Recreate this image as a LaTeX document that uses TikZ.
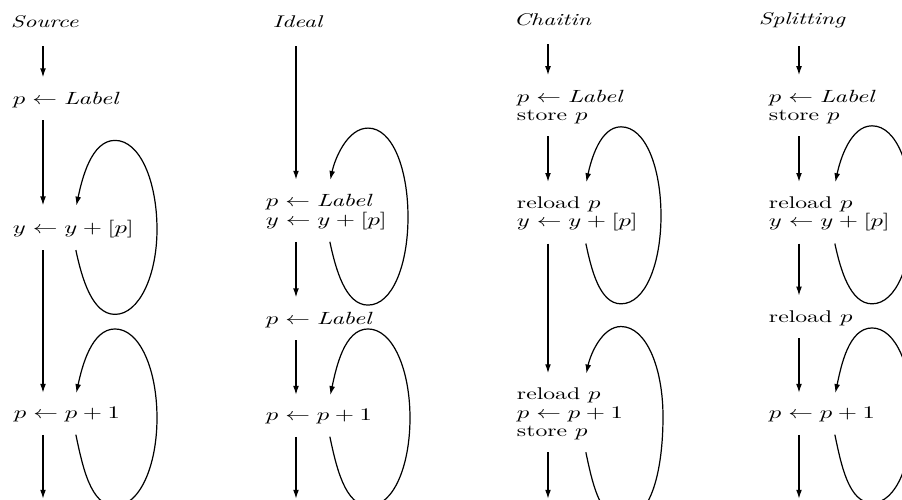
\documentclass[tikz,border=0pt]{standalone}
\usetikzlibrary{arrows.meta}
\begin{document}
\begin{tikzpicture}[x=0.62pt,y=-0.62pt,
  txt/.style={anchor=west,align=left,inner sep=2pt,xscale=1.4,font=\fontsize{10.5}{11.4}\selectfont},
  arr/.style={-{Latex[length=5.5pt,width=3.6pt]},line width=0.75pt,shorten <=5.5pt,shorten >=7pt},
  tarr/.style={arr,shorten <=9pt},
  tobottom/.style={out=-78,in=180,out looseness=1.15,in looseness=0.7},
  toright/.style={out=0,in=-90,out looseness=0.65,in looseness=1.25},
  totop/.style={out=90,in=0,out looseness=1.25,in looseness=0.65},
  totip/.style={out=180,in=78,out looseness=0.7,in looseness=1.15}]
\useasboundingbox (0,0) rectangle (902,500);
\clip (0,0) rectangle (902,500);
\coordinate (a1) at (43,0);
\coordinate (l1) at (74,0);
\coordinate (a2) at (296,0);
\coordinate (l2) at (328,0);
\coordinate (a3) at (548,0);
\coordinate (l3) at (584,0);
\coordinate (a4) at (799,0);
\coordinate (l4) at (833,0);
\coordinate (e1) at (43,510);
\coordinate (e2) at (296,510);
\coordinate (e3) at (548,510);
\coordinate (e4) at (799,510);
\node[txt] (src) at (6,22) {\textit{Source}};
\node[txt] (s1) at (8,100) {$p \leftarrow \mathit{Label}$};
\node[txt] (s2) at (8,229) {$y \leftarrow y + [p]$};
\node[txt] (s3) at (9,415) {$p \leftarrow p + 1$};
\node[txt] (idl) at (268,22) {\textit{Ideal}};
\node[txt] (i1) at (261,212) {$p \leftarrow \mathit{Label}$\\$y \leftarrow y + [p]$};
\node[txt] (i2) at (261,320) {$p \leftarrow \mathit{Label}$};
\node[txt] (i3) at (261,417) {$p \leftarrow p + 1$};
\node[txt] (cht) at (509,20) {\textit{Chaitin}};
\node[txt] (c1) at (512,107) {$p \leftarrow \mathit{Label}$\\store $p$};
\node[txt] (c2) at (512,214) {reload $p$\\$y \leftarrow y + [p]$};
\node[txt] (c3) at (512,414) {reload $p$\\$p \leftarrow p + 1$\\store $p$};
\node[txt] (spl) at (754,20) {\textit{Splitting}};
\node[txt] (d1) at (764,107) {$p \leftarrow \mathit{Label}$\\store $p$};
\node[txt] (d2) at (764,214) {reload $p$\\$y \leftarrow y + [p]$};
\node[txt] (d3) at (764,318) {reload $p$};
\node[txt] (d4) at (764,415) {$p \leftarrow p + 1$};
\draw[tarr] (src.south -| a1) -- (s1.north -| a1);
\draw[arr] (s1.south -| a1) -- (s2.north -| a1);
\draw[arr] (s2.south -| a1) -- (s3.north -| a1);
\draw[arr] (s3.south -| a1) -- (e1);
\draw[tarr] (idl.south -| a2) -- (i1.north -| a2);
\draw[arr] (i1.south -| a2) -- (i2.north -| a2);
\draw[arr] (i2.south -| a2) -- (i3.north -| a2);
\draw[arr] (i3.south -| a2) -- (e2);
\draw[tarr] (cht.south -| a3) -- (c1.north -| a3);
\draw[arr] (c1.south -| a3) -- (c2.north -| a3);
\draw[arr] (c2.south -| a3) -- (c3.north -| a3);
\draw[arr] (c3.south -| a3) -- (e3);
\draw[tarr] (spl.south -| a4) -- (d1.north -| a4);
\draw[arr] (d1.south -| a4) -- (d2.north -| a4);
\draw[arr] (d2.south -| a4) -- (d3.north -| a4);
\draw[arr] (d3.south -| a4) -- (d4.north -| a4);
\draw[arr] (d4.south -| a4) -- (e4);
\draw[arr] (s2.south -| l1) to[tobottom] ++(41,73) to[toright] ++(42,-85) to[totop] ++(-42,-89) to[totip] (s2.north -| l1);
\draw[arr] (s3.south -| l1) to[tobottom] ++(41,80) to[toright] ++(42,-88) to[totop] ++(-42,-89) to[totip] (s3.north -| l1);
\draw[arr] (i1.south -| l2) to[tobottom] ++(40,72) to[toright] ++(40,-88) to[totop] ++(-40,-89) to[totip] (i1.north -| l2);
\draw[arr] (i3.south -| l2) to[tobottom] ++(41,78) to[toright] ++(41,-88) to[totop] ++(-42,-89) to[totip] (i3.north -| l2);
\draw[arr] (c2.south -| l3) to[tobottom] ++(37,69) to[toright] ++(40,-88) to[totop] ++(-40,-89) to[totip] (c2.north -| l3);
\draw[arr] (c3.south -| l3) to[tobottom] ++(39,76) to[toright] ++(40,-103) to[totop] ++(-42,-90) to[totip] (c3.north -| l3);
\draw[arr] (d2.south -| l4) to[tobottom] ++(39,69) to[toright] ++(40,-88) to[totop] ++(-40,-90) to[totip] (d2.north -| l4);
\draw[arr] (d4.south -| l4) to[tobottom] ++(39,77) to[toright] ++(40,-88) to[totop] ++(-40,-87) to[totip] (d4.north -| l4);
\end{tikzpicture}
\end{document}
